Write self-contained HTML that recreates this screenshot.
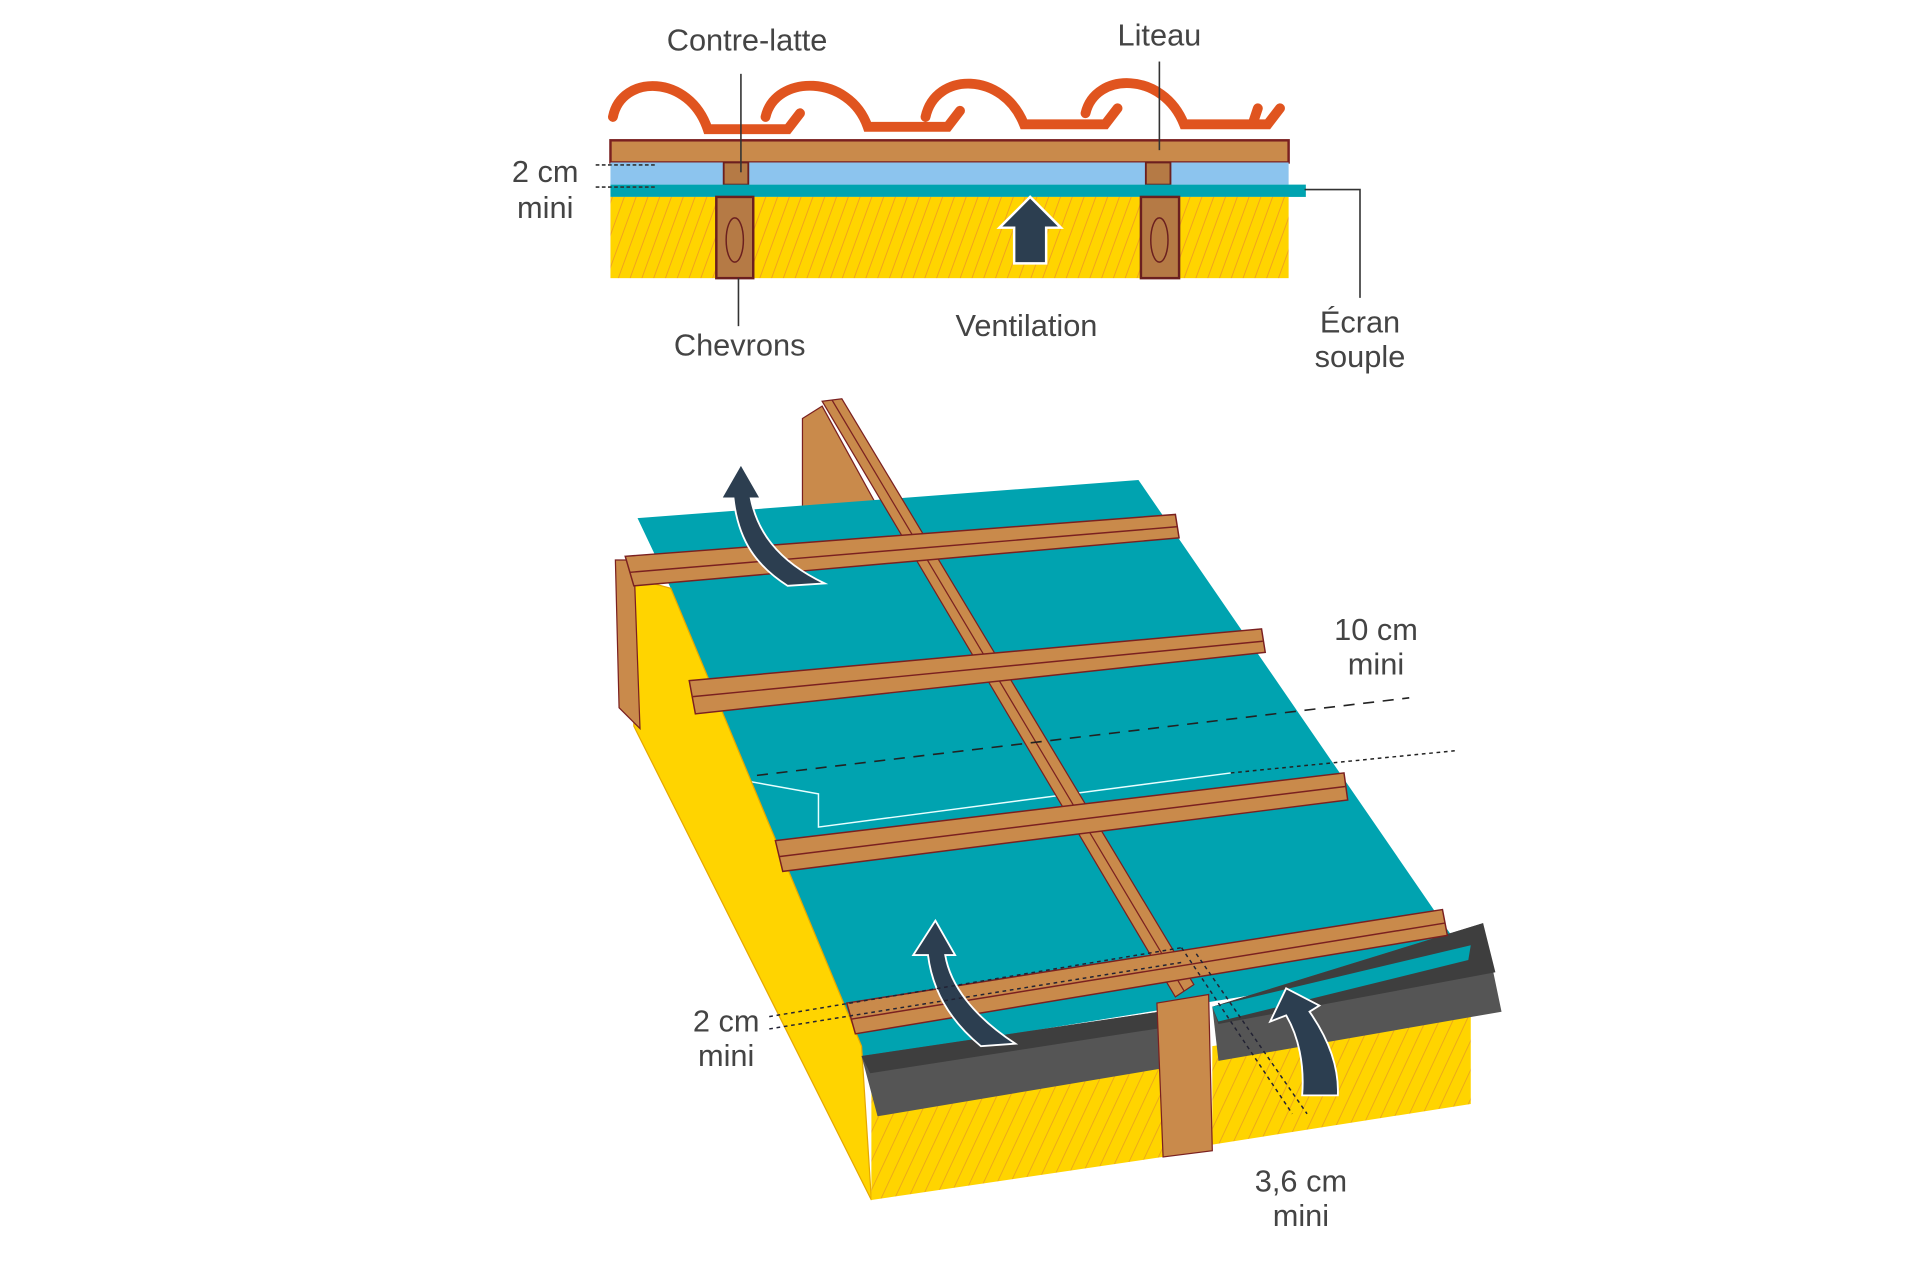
<!DOCTYPE html>
<html><head><meta charset="utf-8"><style>
html,body{margin:0;padding:0;background:#fff;}
svg{display:block}
text{font-family:"Liberation Sans",sans-serif;fill:#444;font-size:25px;text-anchor:middle;}
</style></head><body>
<svg width="1920" height="1280" viewBox="0 0 1560 1040" xmlns="http://www.w3.org/2000/svg">
<defs>
<pattern id="h" width="9" height="9" patternUnits="userSpaceOnUse" patternTransform="rotate(20)">
<rect width="9" height="9" fill="#ffd400"/><line x1="0" y1="0" x2="0" y2="9" stroke="#f0a020" stroke-width="1.5"/>
</pattern>
<pattern id="h2" width="10" height="10" patternUnits="userSpaceOnUse" patternTransform="rotate(25)">
<rect width="10" height="10" fill="#ffd400"/><line x1="0" y1="0" x2="0" y2="10" stroke="#e8a020" stroke-width="1.3"/>
</pattern>
</defs>

<!-- TOP SECTION -->
<path d="M498 95 C505 60,560 60,575 105 L640 105 L650 92 M622 95 C630 60,690 60,705 103 L770 103 L780 90 M752 95 C760 58,815 58,832 101 L898 101 L908 88 M882 92 C890 58,945 58,962 101 L1030 101 L1040 88 M1018 100 L1022 88" fill="none" stroke="#e0541f" stroke-width="8" stroke-linecap="round"/>
<rect x="496" y="114" width="551" height="18" fill="#c98a4b" stroke="#7a2020" stroke-width="2"/>
<rect x="496" y="132" width="551" height="18" fill="#8cc4ee"/>
<rect x="588" y="132" width="20" height="18" fill="#b57a45" stroke="#6b1f1f" stroke-width="1.5"/>
<rect x="931" y="132" width="20" height="18" fill="#b57a45" stroke="#6b1f1f" stroke-width="1.5"/>
<rect x="496" y="150" width="565" height="10" fill="#00a3b0"/>
<rect x="496" y="160" width="551" height="66" fill="url(#h)"/>
<rect x="582" y="160" width="30" height="66" fill="#b57a45" stroke="#6b1f1f" stroke-width="2"/>
<rect x="927" y="160" width="31" height="66" fill="#b57a45" stroke="#6b1f1f" stroke-width="2"/>
<ellipse cx="597" cy="195" rx="7" ry="18" fill="none" stroke="#6b1f1f" stroke-width="1.2"/>
<ellipse cx="942" cy="195" rx="7" ry="18" fill="none" stroke="#6b1f1f" stroke-width="1.2"/>
<path d="M837 160 L862 185 L850 185 L850 214 L824 214 L824 185 L812 185 Z" fill="#2c3e50" stroke="#fff" stroke-width="2"/>
<line x1="602" y1="60" x2="602" y2="140" stroke="#333" stroke-width="1.3"/>
<line x1="942" y1="50" x2="942" y2="122" stroke="#333" stroke-width="1.3"/>
<line x1="600" y1="226" x2="600" y2="265" stroke="#333" stroke-width="1.3"/>
<path d="M1060 154 L1105 154 L1105 242" fill="none" stroke="#333" stroke-width="1.3"/>
<line x1="484" y1="134" x2="532" y2="134" stroke="#333" stroke-width="1.3" stroke-dasharray="3,2"/>
<line x1="484" y1="152" x2="532" y2="152" stroke="#333" stroke-width="1.3" stroke-dasharray="3,2"/>
<text x="607" y="41">Contre-latte</text>
<text x="942" y="37">Liteau</text>
<text x="443" y="148">2 cm</text>
<text x="443" y="177">mini</text>
<text x="601" y="289">Chevrons</text>
<text x="834" y="273">Ventilation</text>
<text x="1105" y="270">Écran</text>
<text x="1105" y="298">souple</text>

<!-- BOTTOM SECTION -->
<polygon points="652,340 668,330 712,410 652,412" fill="#c98a4b" stroke="#7a2020" stroke-width="1"/>
<polygon points="518,421 925,390 1193,780 700,860 545,478" fill="#00a3b0"/>
<polyline points="598,633 665,645 665,672 1000,628" fill="none" stroke="#e8ffff" stroke-width="1.2"/>
<polygon points="515,470 545,478 700,850 708,975 515,590" fill="#ffd400" stroke="#e6a800" stroke-width="1"/>
<polygon points="708,880 945,855 945,940 708,975" fill="url(#h2)"/>
<polygon points="985,850 1195,820 1195,897 985,930" fill="url(#h2)"/>
<polygon points="700,858 942,822 945,868 713,907" fill="#555"/>
<polygon points="700,858 942,822 945,835 707,872" fill="#3e3e3e"/>
<polygon points="985,818 1205,750 1220,822 990,862" fill="#555"/>
<polygon points="985,818 1205,750 1215,790 990,832" fill="#3e3e3e"/>
<polygon points="985,818 1195,768 1193,780 990,830" fill="#00a3b0"/>
<polygon points="500,455 515,455 520,592 503,575" fill="#c98a4b" stroke="#7a2020" stroke-width="1"/>
<polygon points="668,326 684,324 970,800 955,810" fill="#c98a4b" stroke="#7a2020" stroke-width="1"/>
<line x1="676" y1="325" x2="962" y2="805" stroke="#7a2020" stroke-width="1"/>
<polygon points="940,815 982,808 985,935 945,940" fill="#c98a4b" stroke="#7a2020" stroke-width="1"/>
<g fill="#c98a4b" stroke="#7a2020" stroke-width="1.2">
<polygon points="508,452 955,418 958,437 515,476"/>
<line x1="512" y1="465" x2="956" y2="428"/>
<polygon points="560,553 1025,511 1028,530 565,580"/>
<line x1="563" y1="566" x2="1026" y2="521"/>
<polygon points="630,683 1092,628 1095,650 636,708"/>
<line x1="633" y1="696" x2="1093" y2="639"/>
<polygon points="688,815 1172,739 1176,760 695,840"/>
<line x1="692" y1="828" x2="1174" y2="750"/>
</g>
<g fill="#2c3e50" stroke="#fff" stroke-width="1.5">
<path d="M602 377 L618 405 L610 405 C615 430,630 455,670 474 L640 476 C615 460,600 440,596 405 L586 405 Z"/>
<path d="M760 748 L776 776 L768 776 C772 800,790 825,825 848 L797 850 C775 832,758 808,754 776 L742 776 Z"/>
<path d="M1045 803 L1072 817 L1064 822 C1080 845,1088 868,1087 890 L1058 890 C1060 865,1055 842,1045 825 L1032 830 Z"/>
</g>
<line x1="615" y1="630" x2="1145" y2="567" stroke="#222" stroke-width="1.3" stroke-dasharray="9,7"/>
<line x1="1000" y1="628" x2="1182" y2="610" stroke="#222" stroke-width="1.2" stroke-dasharray="3,3"/>
<line x1="625" y1="826" x2="960" y2="770" stroke="#223" stroke-width="1.2" stroke-dasharray="3,3"/>
<line x1="625" y1="836" x2="960" y2="782" stroke="#223" stroke-width="1.2" stroke-dasharray="3,3"/>
<line x1="960" y1="770" x2="1050" y2="905" stroke="#223" stroke-width="1.2" stroke-dasharray="3,3"/>
<line x1="972" y1="775" x2="1062" y2="905" stroke="#223" stroke-width="1.2" stroke-dasharray="3,3"/>
<text x="1118" y="520">10 cm</text>
<text x="1118" y="548">mini</text>
<text x="590" y="838">2 cm</text>
<text x="590" y="866">mini</text>
<text x="1057" y="968">3,6 cm</text>
<text x="1057" y="996">mini</text>
</svg>
</body></html>
